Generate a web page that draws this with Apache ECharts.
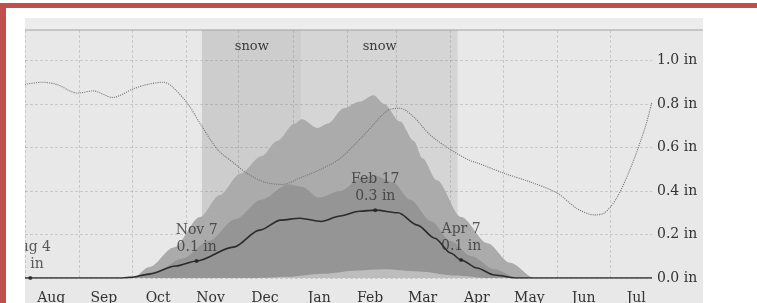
<!DOCTYPE html>
<html>
<head>
<meta charset="utf-8">
<script src="https://cdn.jsdelivr.net/npm/echarts@6/dist/echarts.min.js"></script>
<style>
html,body{margin:0;padding:0;background:#fff;}
#c{width:757px;height:303px;}
</style>
</head>
<body>
<div id="c"></div>
<script>
// x values are days counted from Aug 1
const monthNames = ['Aug','Sep','Oct','Nov','Dec','Jan','Feb','Mar','Apr','May','Jun','Jul'];
const monthStarts = [0,31,61,92,122,153,184,212,243,273,304,334];
const monthMids = [15,45,76,106,137,168,197,227,258,288,319,349];
const yTicks = [0,0.2,0.4,0.6,0.8,1.0];

// snowy periods [start day, end day, label]
const snowBands = [[101,158,'snow'],[158,247,'snow']];

// 90th percentile band (outer)
const p90 = [[0,0],[57,0],[62,0.003],[71,0.05],[85,0.14],[100,0.28],[111,0.38],[123,0.48],[135,0.56],[144,0.63],[154,0.71],[158,0.73],[167,0.69],[173,0.71],[182,0.78],[191,0.81],[199,0.84],[205,0.80],[214,0.72],[222,0.63],[227,0.55],[235,0.45],[249,0.28],[264,0.16],[277,0.07],[291,0],[358,0]];
// 75th percentile band (inner)
const p75 = [[0,0],[60,0],[75,0.03],[90,0.09],[105,0.17],[120,0.27],[135,0.36],[150,0.43],[158,0.42],[168,0.37],[180,0.40],[192,0.46],[200,0.47],[210,0.44],[220,0.36],[232,0.26],[243,0.17],[255,0.10],[268,0.04],[280,0.005],[290,0],[358,0]];
// 10th percentile (lowest)
const p10 = [[0,0],[130,0],[150,0.006],[170,0.02],[190,0.035],[205,0.04],[225,0.03],[245,0.012],[265,0],[358,0]];
// median
const median = [[0,0],[54,0],[60,0.003],[71,0.018],[86,0.055],[98,0.078],[119,0.142],[134,0.22],[146,0.266],[157,0.275],[169,0.26],[180,0.285],[191,0.307],[200,0.312],[213,0.30],[224,0.243],[234,0.183],[243,0.115],[249,0.083],[258,0.046],[268,0.014],[281,0],[358,0]];
// dotted line
const dotted = [[0,0.89],[10,0.90],[18,0.89],[30,0.85],[39,0.86],[50,0.83],[62,0.87],[70,0.89],[79,0.90],[84,0.88],[93,0.80],[100,0.71],[110,0.59],[119,0.53],[127,0.48],[137,0.44],[147,0.43],[157,0.46],[169,0.50],[180,0.55],[195,0.67],[207,0.77],[214,0.78],[222,0.74],[231,0.66],[243,0.59],[254,0.54],[258,0.53],[274,0.48],[289,0.44],[304,0.39],[315,0.32],[325,0.29],[331,0.30],[338,0.37],[346,0.51],[354,0.69],[358,0.81]];

// annotated points
const noteDays = [3,98,200,249];
const noteVals = [0,0.078,0.312,0.083];
const noteNames = ['Aug 4','Nov 7','Feb 17','Apr 7'];
const noteTexts = ['0 in','0.1 in','0.3 in','0.1 in'];

const SERIF = '"DejaVu Serif", serif';
const chart = echarts.init(document.getElementById('c'), null, {renderer:'canvas'});

function area(name, data, color, z){
  return {name, type:'line', data, smooth:0.3, smoothMonotone:'x', showSymbol:false, symbol:'none',
    lineStyle:{width:0}, areaStyle:{color, opacity:1}, z, silent:true};
}

const outer = area('p90', p90, '#ababab', 2);
outer.markArea = {
  silent:true,
  z:1,
  label:{show:true, position:'insideTop', distance:10, fontFamily:SERIF, fontSize:13, color:'#3a3a3a'},
  data:[
    [{xAxis:snowBands[0][0], name:snowBands[0][2], itemStyle:{color:'#cdcdcd'}},{xAxis:snowBands[0][1]}],
    [{xAxis:snowBands[1][0], name:snowBands[1][2], itemStyle:{color:'#d5d5d5'}},{xAxis:snowBands[1][1]}]
  ]
};

chart.setOption({
  animation:false,
  backgroundColor:'#ffffff',
  grid:{left:25, right:105, top:30, bottom:25, containLabel:false, outerBoundsMode:'none'},
  xAxis:{
    type:'value', min:0, max:358, z:1.5,
    axisLine:{show:false},
    axisTick:{show:false, customValues:monthStarts},
    splitLine:{show:true, lineStyle:{color:'rgba(90,90,90,0.22)', width:1, type:[3,2]}},
    axisLabel:{customValues:monthMids, margin:13, fontFamily:SERIF, fontSize:14, color:'#333',
      formatter:v=>monthNames[monthMids.indexOf(v)]}
  },
  yAxis:{
    type:'value', position:'right', min:0, max:1.14, z:1.5,
    axisLine:{show:false},
    axisTick:{show:false, customValues:yTicks},
    splitLine:{show:true, lineStyle:{color:'rgba(90,90,90,0.22)', width:1, type:[3,2]}},
    axisLabel:{customValues:yTicks, margin:5, fontFamily:SERIF, fontSize:14, color:'#333',
      formatter:v=>v.toFixed(1)+' in'}
  },
  graphic:[
    {type:'rect', z:-10, shape:{x:25,y:18,width:678,height:285}, style:{fill:'#e8e8e8'}},
    {type:'rect', z:-9, shape:{x:25,y:18,width:678,height:12}, style:{fill:'#ededed'}},
    {type:'line', z:50, shape:{x1:25,y1:30,x2:703,y2:30}, style:{stroke:'#a2a2a2', lineWidth:1.2}},
    {type:'rect', z:90, shape:{x:6,y:8,width:19,height:295}, style:{fill:'#ffffff'}},
    {type:'rect', z:90, shape:{x:703,y:8,width:54,height:295}, style:{fill:'#ffffff'}},
    {type:'rect', z:100, shape:{x:0,y:3,width:757,height:5}, style:{fill:'#c0504d'}},
    {type:'rect', z:100, shape:{x:0,y:3,width:6,height:300}, style:{fill:'#c0504d'}}
  ],
  series:[
    outer,
    area('p75', p75, '#959595', 2.1),
    area('p10', p10, '#bdbdbd', 2.2),
    {name:'dotted', type:'line', data:dotted, smooth:0.3, showSymbol:false, symbol:'none', z:3,
      lineStyle:{color:'#777', width:1.1, type:'dotted'}},
    {name:'median', type:'line', data:median, smooth:0.3, smoothMonotone:'x', showSymbol:false, symbol:'none', z:4,
      lineStyle:{color:'#2b2b2b', width:1.6}},
    {name:'notes', type:'scatter', z:5, symbolSize:4, itemStyle:{color:'#222'},
      data:noteDays.map((d,i)=>[d,noteVals[i]]),
      label:{show:true, position:'top', distance:3, fontFamily:SERIF, fontSize:14, lineHeight:17, color:'#333',
        formatter:p=>noteNames[p.dataIndex]+'\n'+noteTexts[p.dataIndex]}}
  ]
});
</script>
</body>
</html>
